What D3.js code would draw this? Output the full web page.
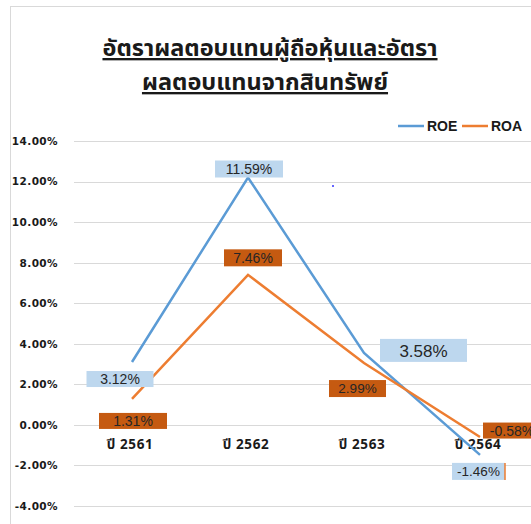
<!DOCTYPE html>
<html>
<head>
<meta charset="utf-8">
<script src="https://cdn.jsdelivr.net/npm/d3@7"></script>
<style>
  body { margin: 0; background: #fff; }
  svg { display: block; }
</style>
</head>
<body>
<div id="vis"></div>
<script>
// chart data
const YEARS = ["ปี 2561", "ปี 2562", "ปี 2563", "ปี 2564"];
const ROE = [3.1, 12.2, 3.55, -1.48];
const ROA = [1.28, 7.4, 3.05, -0.6];
const ROE_LABELS = ["3.12%", "11.59%", "3.58%", "-1.46%"];
const ROA_LABELS = ["1.31%", "7.46%", "2.99%", "-0.58%"];
const Y_TICKS = [-4, -2, 0, 2, 4, 6, 8, 10, 12, 14];
const TITLE_LINES = ["อัตราผลตอบแทนผู้ถือหุ้นและอัตรา", "ผลตอบแทนจากสินทรัพย์"];

const WIDTH = 531;
const HEIGHT = 524;

const svg = d3.select("#vis")
  .append("svg")
    .attr("width", WIDTH)
    .attr("height", HEIGHT);

// outer chart border (only top/left visible)
svg.append("rect")
  .attr("x", 10.5).attr("y", 6.5)
  .attr("width", 560).attr("height", 560)
  .attr("fill", "none")
  .attr("stroke", "#d9d9d9");

// scales
const X_SCALE = d3.scaleBand()
  .domain(YEARS)
  .range([74, 538]);

const Y_SCALE = d3.scaleLinear()
  .domain([-4, 14])
  .range([506, 141]);

const cx = (i) => X_SCALE(YEARS[i]) + X_SCALE.bandwidth() / 2;

// gridlines
svg.selectAll(".grid")
  .data(Y_TICKS)
  .enter()
  .append("line")
    .attr("x1", 74).attr("x2", WIDTH)
    .attr("y1", d => Math.round(Y_SCALE(d)) + 0.5)
    .attr("y2", d => Math.round(Y_SCALE(d)) + 0.5)
    .attr("stroke", "#d9d9d9")
    .attr("stroke-width", 1);

// y axis labels
const yAxis = d3.axisLeft(Y_SCALE)
  .tickValues(Y_TICKS)
  .tickSize(0)
  .tickPadding(0)
  .tickFormat(d => d.toFixed(2) + "%");

svg.append("g")
  .attr("transform", "translate(58,0)")
  .call(yAxis)
  .call(g => g.select(".domain").remove())
  .selectAll("text")
    .attr("font-family", "DejaVu Sans, sans-serif")
    .attr("font-weight", "bold")
    .attr("font-size", 10.5)
    .attr("letter-spacing", 0.4)
    .attr("fill", "#1a1a1a");

// x labels
svg.selectAll(".xlab")
  .data(YEARS)
  .enter()
  .append("text")
    .attr("x", (d, i) => cx(i) - 2)
    .attr("y", 449)
    .attr("text-anchor", "middle")
    .attr("font-family", "Noto Sans Thai, Tahoma, DejaVu Sans, sans-serif")
    .attr("font-weight", "bold")
    .attr("font-size", 13.5)
    .attr("letter-spacing", 0.6)
    .attr("fill", "#1a1a1a")
    .text(d => d);

// lines
const line = d3.line()
  .x((d, i) => cx(i))
  .y(d => Y_SCALE(d));

svg.append("path")
  .datum(ROE)
  .attr("d", line)
  .attr("fill", "none")
  .attr("stroke", "#5B9BD5")
  .attr("stroke-width", 2.5);

svg.append("path")
  .datum(ROA)
  .attr("d", line)
  .attr("fill", "none")
  .attr("stroke", "#ED7D31")
  .attr("stroke-width", 2.5);

// data labels (boxes were moved by hand in the original)
const roeBoxes = [
  {dx: -12, dy: 17, w: 67, h: 16, fs: 14},
  {dx: 1, dy: -8.5, w: 68, h: 17, fs: 14},
  {dx: 59.5, dy: -2.5, w: 87, h: 23, fs: 17},
  {dx: -1.5, dy: 16.5, w: 53, h: 17, fs: 13.5}
];
const roaBoxes = [
  {dx: 1, dy: 22, w: 68, h: 16, fs: 14},
  {dx: 5, dy: -17, w: 58, h: 17, fs: 14},
  {dx: -6.5, dy: 25.5, w: 57, h: 17, fs: 13.5},
  {dx: 32, dy: -6.5, w: 58, h: 16, fs: 14}
];

function drawLabels(values, labels, boxes, fill) {
  const g = svg.append("g");
  const items = g.selectAll("g")
    .data(values)
    .enter()
    .append("g")
      .attr("transform", (d, i) => "translate(" + (cx(i) + boxes[i].dx) + "," + (Y_SCALE(d) + boxes[i].dy) + ")");
  items.append("rect")
    .attr("x", (d, i) => -boxes[i].w / 2)
    .attr("y", (d, i) => -boxes[i].h / 2)
    .attr("width", (d, i) => boxes[i].w)
    .attr("height", (d, i) => boxes[i].h)
    .attr("fill", fill);
  items.append("text")
    .attr("text-anchor", "middle")
    .attr("dy", "0.36em")
    .attr("font-family", "Liberation Sans, Arial, sans-serif")
    .attr("font-size", (d, i) => boxes[i].fs)
    .attr("fill", "#262626")
    .text((d, i) => labels[i]);
  return items;
}

const roeItems = drawLabels(ROE, ROE_LABELS, roeBoxes, "#BDD7EE");
drawLabels(ROA, ROA_LABELS, roaBoxes, "#C55A11");

// little orange edge on the last ROE box
roeItems.filter((d, i) => i === 3)
  .append("line")
    .attr("x1", roeBoxes[3].w / 2).attr("x2", roeBoxes[3].w / 2)
    .attr("y1", -roeBoxes[3].h / 2).attr("y2", roeBoxes[3].h / 2)
    .attr("stroke", "#ED7D31")
    .attr("stroke-width", 1.5);

// stray dot
svg.append("rect")
  .attr("x", 332).attr("y", 185)
  .attr("width", 2).attr("height", 2)
  .attr("fill", "#6666ff");

// legend
const legend = [
  {name: "ROE", color: "#5B9BD5", x: 398},
  {name: "ROA", color: "#ED7D31", x: 462}
];
const lg = svg.selectAll(".legend")
  .data(legend)
  .enter()
  .append("g")
    .attr("transform", d => "translate(" + d.x + ",126)");
lg.append("line")
  .attr("x1", 0).attr("x2", 26)
  .attr("stroke", d => d.color)
  .attr("stroke-width", 2.5);
lg.append("text")
  .attr("x", 29)
  .attr("dy", "0.36em")
  .attr("font-family", "Liberation Sans, Arial, sans-serif")
  .attr("font-weight", "bold")
  .attr("font-size", 14)
  .attr("fill", "#1a1a1a")
  .text(d => d.name);

// title
svg.selectAll(".title")
  .data(TITLE_LINES)
  .enter()
  .append("text")
    .attr("x", (d, i) => i === 0 ? 270 : 265)
    .attr("y", (d, i) => 56 + i * 34)
    .attr("text-anchor", "middle")
    .attr("font-family", "Noto Sans Thai, Tahoma, DejaVu Sans, sans-serif")
    .attr("font-weight", "bold")
    .attr("font-size", 23.5)
    .attr("fill", "#1a1a1a")
    .style("text-decoration", "underline")
    .text(d => d);
</script>
</body>
</html>
